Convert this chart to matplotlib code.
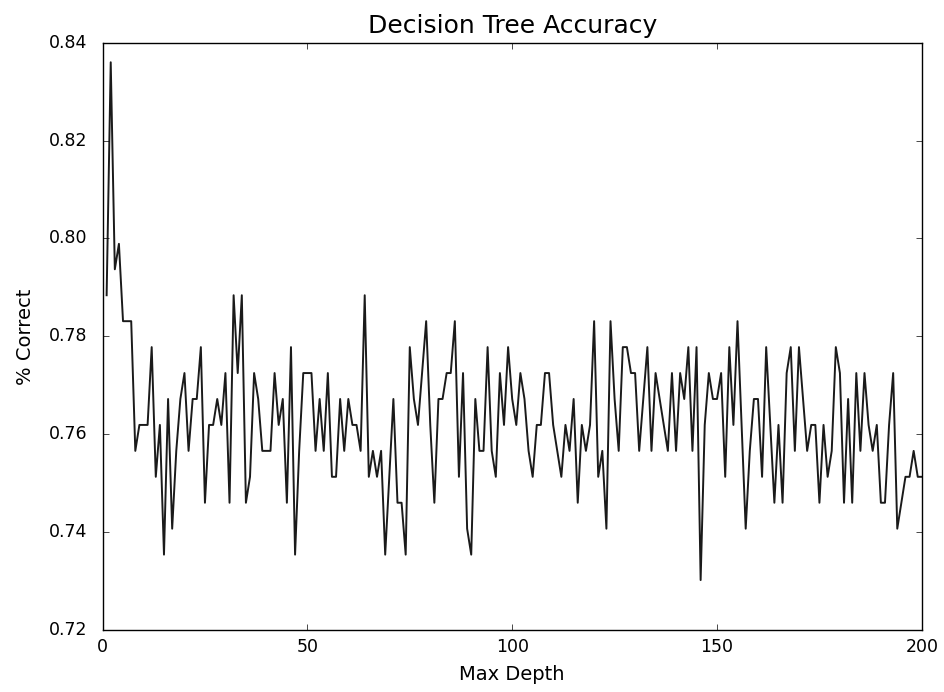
import matplotlib
matplotlib.use("Agg")
import matplotlib.pyplot as plt
from matplotlib.ticker import FormatStrFormatter

# max depth values and the accuracy
depths = list(range(1, 201))
accuracy = [
    0.7884, 0.8360, 0.7937, 0.7989, 0.7831, 0.7831, 0.7831, 0.7566, 0.7619, 0.7619,
    0.7619, 0.7778, 0.7513, 0.7619, 0.7354, 0.7672, 0.7407, 0.7566, 0.7672, 0.7725,
    0.7566, 0.7672, 0.7672, 0.7778, 0.7460, 0.7619, 0.7619, 0.7672, 0.7619, 0.7725,
    0.7460, 0.7884, 0.7725, 0.7884, 0.7460, 0.7513, 0.7725, 0.7672, 0.7566, 0.7566,
    0.7566, 0.7725, 0.7619, 0.7672, 0.7460, 0.7778, 0.7354, 0.7566, 0.7725, 0.7725,
    0.7725, 0.7566, 0.7672, 0.7566, 0.7725, 0.7513, 0.7513, 0.7672, 0.7566, 0.7672,
    0.7619, 0.7619, 0.7566, 0.7884, 0.7513, 0.7566, 0.7513, 0.7566, 0.7354, 0.7513,
    0.7672, 0.7460, 0.7460, 0.7354, 0.7778, 0.7672, 0.7619, 0.7725, 0.7831, 0.7619,
    0.7460, 0.7672, 0.7672, 0.7725, 0.7725, 0.7831, 0.7513, 0.7725, 0.7407, 0.7354,
    0.7672, 0.7566, 0.7566, 0.7778, 0.7566, 0.7513, 0.7725, 0.7619, 0.7778, 0.7672,
    0.7619, 0.7725, 0.7672, 0.7566, 0.7513, 0.7619, 0.7619, 0.7725, 0.7725, 0.7619,
    0.7566, 0.7513, 0.7619, 0.7566, 0.7672, 0.7460, 0.7619, 0.7566, 0.7619, 0.7831,
    0.7513, 0.7566, 0.7407, 0.7831, 0.7672, 0.7566, 0.7778, 0.7778, 0.7725, 0.7725,
    0.7566, 0.7672, 0.7778, 0.7566, 0.7725, 0.7672, 0.7619, 0.7566, 0.7725, 0.7566,
    0.7725, 0.7672, 0.7778, 0.7566, 0.7778, 0.7302, 0.7619, 0.7725, 0.7672, 0.7672,
    0.7725, 0.7513, 0.7778, 0.7619, 0.7831, 0.7619, 0.7407, 0.7566, 0.7672, 0.7672,
    0.7513, 0.7778, 0.7619, 0.7460, 0.7619, 0.7460, 0.7725, 0.7778, 0.7566, 0.7778,
    0.7672, 0.7566, 0.7619, 0.7619, 0.7460, 0.7619, 0.7513, 0.7566, 0.7778, 0.7725,
    0.7460, 0.7672, 0.7460, 0.7725, 0.7566, 0.7725, 0.7619, 0.7566, 0.7619, 0.7460,
    0.7460, 0.7619, 0.7725, 0.7407, 0.7460, 0.7513, 0.7513, 0.7566, 0.7513, 0.7513,
]

x_ticks = [0, 50, 100, 150, 200]
y_ticks = [0.72, 0.74, 0.76, 0.78, 0.80, 0.82, 0.84]

plt.style.use("classic")
plt.rcParams["font.family"] = "DejaVu Sans"

fig = plt.figure(figsize=(9.45, 6.92), dpi=100, facecolor="white")
ax = fig.add_axes([0.1085, 0.0896, 0.867, 0.8487])

ax.plot(depths, accuracy, color="#1a1a1a", linewidth=1.4)

ax.set_xlim(0, 200)
ax.set_ylim(0.72, 0.84)
ax.set_xticks(x_ticks)
ax.set_yticks(y_ticks)
ax.yaxis.set_major_formatter(FormatStrFormatter("%.2f"))
ax.tick_params(labelsize=12.5)
ax.tick_params(axis="y", pad=11)
ax.tick_params(axis="x", pad=6)

ax.set_title("Decision Tree Accuracy", fontsize=18, pad=7)
ax.set_xlabel("Max Depth", fontsize=14, labelpad=6)
ax.set_ylabel("% Correct", fontsize=14, labelpad=10)

fig.savefig("out.png", dpi=100, facecolor="white")
